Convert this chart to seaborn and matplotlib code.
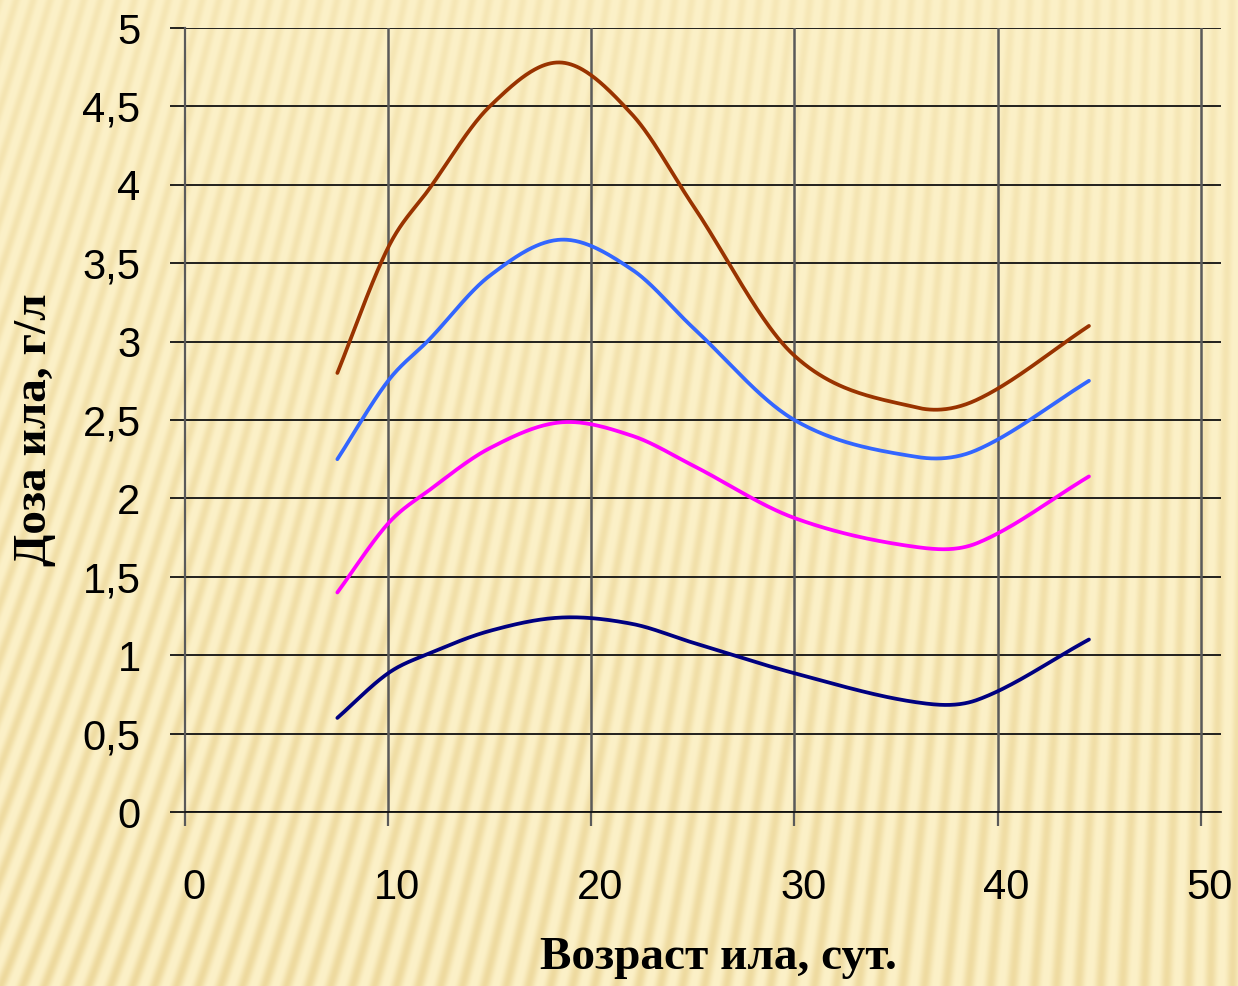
import numpy as np
import pandas as pd
import matplotlib
matplotlib.use("Agg")
import matplotlib.pyplot as plt
import matplotlib.transforms as mtransforms
import seaborn as sns

# Sludge age, days, and sludge dose (g/l) for the four curves
age = [7.5, 10, 12, 15, 18.5, 22, 25, 30, 36, 39, 44.5]
dose_brown = [2.80, 3.60, 3.97, 4.50, 4.78, 4.45, 3.87, 2.91, 2.58, 2.63, 3.10]
dose_blue = [2.25, 2.75, 3.01, 3.42, 3.65, 3.46, 3.09, 2.50, 2.265, 2.31, 2.75]
dose_magenta = [1.40, 1.84, 2.05, 2.32, 2.485, 2.40, 2.21, 1.875, 1.69, 1.715, 2.14]
dose_navy = [0.60, 0.885, 1.01, 1.155, 1.24, 1.20, 1.08, 0.885, 0.70, 0.715, 1.10]

x_ticks = [0, 10, 20, 30, 40, 50]
y_ticks = [0, 0.5, 1, 1.5, 2, 2.5, 3, 3.5, 4, 4.5, 5]
y_tick_labels = ["0", "0,5", "1", "1,5", "2", "2,5", "3", "3,5", "4", "4,5", "5"]

series = {
    "s1": dose_brown,
    "s2": dose_blue,
    "s3": dose_magenta,
    "s4": dose_navy,
}
palette = {"s1": "#993300", "s2": "#3366FF", "s3": "#FF00FF", "s4": "#000080"}


def smooth(xs, ys, n=50):
    """Cubic Hermite curve through the points, tangents from neighbouring points."""
    x = np.asarray(xs, float)
    y = np.asarray(ys, float)
    m = np.empty_like(y)
    m[1:-1] = (y[2:] - y[:-2]) / (x[2:] - x[:-2])
    m[0] = (y[1] - y[0]) / (x[1] - x[0])
    m[-1] = (y[-1] - y[-2]) / (x[-1] - x[-2])
    ox, oy = [], []
    for i in range(len(x) - 1):
        h = x[i + 1] - x[i]
        t = np.linspace(0, 1, n)
        if i > 0:
            t = t[1:]
        h00 = 2 * t ** 3 - 3 * t ** 2 + 1
        h10 = t ** 3 - 2 * t ** 2 + t
        h01 = -2 * t ** 3 + 3 * t ** 2
        h11 = t ** 3 - t ** 2
        ox.append(x[i] + t * h)
        oy.append(h00 * y[i] + h10 * h * m[i] + h01 * y[i + 1] + h11 * h * m[i + 1])
    return np.concatenate(ox), np.concatenate(oy)


frames = []
for name, vals in series.items():
    sx, sy = smooth(age, vals)
    frames.append(pd.DataFrame({"age": sx, "dose": sy, "series": name}))
df = pd.concat(frames, ignore_index=True)

W, H, DPI = 1238, 986, 100
fig = plt.figure(figsize=(W / DPI, H / DPI), dpi=DPI)

# Striped beige backdrop
yy, xx = np.mgrid[0:H, 0:W].astype(float)
slant = 0.38 * (1 - xx / W) + 0.02
phase = (xx - slant * (H - yy)) / 22.0
t = 0.5 + 0.5 * np.cos(2 * np.pi * phase)
dark_w = t ** 1.4
light = np.array([252, 241, 200]) / 255.0
dark = np.array([235, 213, 150]) / 255.0
grad = 0.30 + 0.45 * (yy / H) + 0.10 * (1 - xx / W)
grad = np.clip(grad, 0, 1)
w = (dark_w * grad)[..., None]
img = light * (1 - w) + dark * w
bg = fig.add_axes([0, 0, 1, 1], zorder=-1)
bg.imshow(img, aspect="auto", extent=[0, W, H, 0], interpolation="bilinear")
bg.axis("off")

ax = fig.add_axes([185 / W, 1 - 812 / H, (1221 - 185) / W, (812 - 28) / H])
ax.set_facecolor("none")

sns.lineplot(data=df, x="age", y="dose", hue="series", palette=palette, sort=False,
             estimator=None, legend=False, linewidth=2.7, ax=ax,
             solid_capstyle="round", zorder=3)

ax.set_xlim(0, 51)
ax.set_ylim(0, 5)
ax.set_xticks(x_ticks)
ax.set_yticks(y_ticks)
ax.set_yticklabels(y_tick_labels)

for y in y_ticks:
    ax.axhline(y, color="#111111", lw=1.3, zorder=1)
for x in x_ticks[1:]:
    ax.axvline(x, color="#5a5a5a", lw=1.8, zorder=1)

for side in ["top", "right"]:
    ax.spines[side].set_visible(False)
ax.spines["left"].set_color("#5a5a5a")
ax.spines["left"].set_linewidth(1.6)
ax.spines["bottom"].set_color("#111111")
ax.spines["bottom"].set_linewidth(1.3)

for lab in ax.get_xticklabels() + ax.get_yticklabels():
    lab.set_fontfamily("Liberation Sans")
    lab.set_fontsize(30)
ax.tick_params(axis="y", length=11, width=1.3, color="#111111", pad=21)
ax.tick_params(axis="x", length=10, width=1.6, color="#5a5a5a", pad=30)

shift = mtransforms.ScaledTranslation(9 / DPI, 0, fig.dpi_scale_trans)
for lab in ax.get_xticklabels():
    lab.set_transform(lab.get_transform() + shift)

ax.set_xlabel("Возраст ила, сут.", fontfamily="Liberation Serif", fontweight="bold", fontsize=34)
ax.set_ylabel("Доза ила, г/л", fontfamily="Liberation Serif", fontweight="bold", fontsize=34)
ax.xaxis.set_label_coords((718 - 185) / (1221 - 185), (812 - 937) / (812 - 28))
ax.yaxis.set_label_coords((35 - 185) / (1221 - 185), (812 - 430) / (812 - 28))
ax.yaxis.label.set_va("center")

fig.savefig("out.png", dpi=DPI)
